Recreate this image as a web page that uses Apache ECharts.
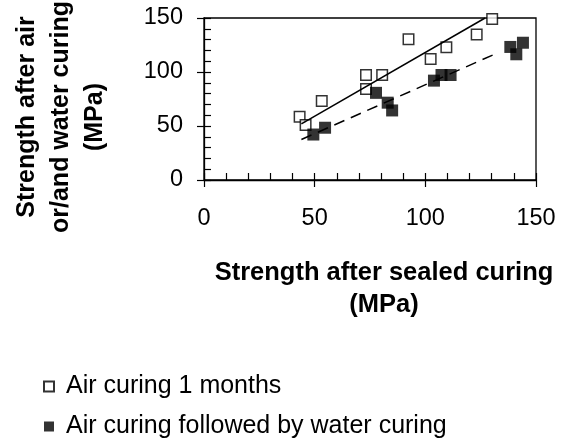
<!DOCTYPE html>
<html>
<head>
<meta charset="utf-8">
<script src="https://cdn.jsdelivr.net/npm/echarts@6/dist/echarts.min.js"></script>
<style>
  html, body { margin: 0; padding: 0; background: #fff; }
  #chart { width: 568px; height: 443px; }
</style>
</head>
<body>
<div id="chart"></div>
<script>
// Compressive strength: sealed curing (x) vs. air / air+water curing (y), MPa
const seriesNames = ['Air curing 1 months', 'Air curing followed by water curing'];

const airSealed = [43.2, 45.9, 53.2, 73.2, 73.2, 80.5, 92.4, 102.4, 109.5, 123.2, 130.2];
const airCured  = [58.6, 50.9, 73.2, 97.2, 84.3, 97.2, 130.3, 112.0, 122.9, 134.7, 149.1];

const waterSealed = [49.4, 54.7, 77.7, 83.0, 85.0, 103.9, 107.3, 111.4, 138.4, 141.1, 144.1];
const waterCured  = [42.1, 48.4, 80.7, 71.6, 64.4, 92.0, 97.2, 97.2, 123.2, 116.4, 127.1];

// Trend line end points [x, y]
const airTrend   = [[44, 52], [127, 150]];
const waterTrend = [[44, 37.5], [133, 118]];

const axisTicks = [0, 50, 100, 150];

const FONT = "'Liberation Sans', Arial, Helvetica, sans-serif";
const zip = (xs, ys) => xs.map((x, i) => [x, ys[i]]);

const chart = echarts.init(document.getElementById('chart'), null, { renderer: 'canvas' });

const axisMin = axisTicks[0];
const axisMax = axisTicks[axisTicks.length - 1];
const axisStep = axisTicks[1] - axisTicks[0];

function mainAxis(extra) {
  return Object.assign({
    type: 'value',
    min: axisMin, max: axisMax, interval: axisStep,
    axisLine: { show: true, onZero: false, lineStyle: { color: '#000', width: 1.3 } },
    axisTick: { show: true, inside: true, length: 7, lineStyle: { color: '#000', width: 1.2 } },
    minorTick: { show: true, splitNumber: 5, length: 7, lineStyle: { color: '#000', width: 1.2 } },
    splitLine: { show: false },
    minorSplitLine: { show: false },
    axisLabel: { color: '#000', fontSize: 23.5, fontFamily: FONT }
  }, extra);
}

// Outer halves of the major ticks
function outerTicks(extra) {
  return Object.assign({
    type: 'value',
    min: axisMin, max: axisMax, interval: axisStep,
    axisLine: { show: false },
    axisTick: { show: true, inside: false, length: 7, lineStyle: { color: '#000', width: 1.2 } },
    axisLabel: { show: false },
    splitLine: { show: false }
  }, extra);
}

chart.setOption({
  animation: false,
  backgroundColor: '#fff',
  grid: {
    left: 204, right: 32, top: 18, bottom: 263,
    show: true, borderColor: '#000', borderWidth: 1.3, backgroundColor: 'transparent'
  },
  xAxis: [
    mainAxis({ position: 'bottom', axisLabel: { color: '#000', fontSize: 23.5, fontFamily: FONT, margin: 27 } }),
    outerTicks({ position: 'bottom' })
  ],
  yAxis: [
    mainAxis({ position: 'left', axisLabel: { color: '#000', fontSize: 23.5, fontFamily: FONT, margin: 21 } }),
    outerTicks({ position: 'left' })
  ],
  legend: {
    orient: 'vertical',
    left: 43, top: 374,
    width: 520, height: 69,
    padding: 0,
    itemWidth: 10, itemHeight: 10, itemGap: 15,
    data: seriesNames,
    textStyle: { color: '#000', fontSize: 25, fontFamily: FONT, lineHeight: 25, padding: [0, 0, 0, 7] }
  },
  graphic: [
    {
      type: 'text',
      x: 61, y: 117,
      rotation: Math.PI / 2,
      style: {
        text: 'Strength after air\nor/and water curing\n(MPa)',
        fill: '#000',
        font: "bold 25px " + FONT,
        lineHeight: 34,
        align: 'center',
        verticalAlign: 'middle'
      }
    },
    {
      type: 'text',
      x: 384, y: 289,
      style: {
        text: 'Strength after sealed curing\n(MPa)',
        fill: '#000',
        font: "bold 25.5px " + FONT,
        lineHeight: 32,
        align: 'center',
        verticalAlign: 'middle'
      }
    }
  ],
  series: [
    {
      name: seriesNames[0],
      type: 'scatter',
      symbol: 'rect',
      symbolSize: 10.5,
      itemStyle: { color: '#fff', borderColor: '#000', borderWidth: 1.5 },
      data: zip(airSealed, airCured),
      z: 3
    },
    {
      name: seriesNames[1],
      type: 'scatter',
      symbol: 'rect',
      symbolSize: 12,
      itemStyle: { color: '#000' },
      data: zip(waterSealed, waterCured),
      z: 3
    },
    {
      name: 'air trend',
      type: 'line',
      data: airTrend,
      showSymbol: false,
      silent: true,
      lineStyle: { color: '#000', width: 1.5, type: 'solid' },
      z: 4
    },
    {
      name: 'water trend',
      type: 'line',
      data: waterTrend,
      showSymbol: false,
      silent: true,
      lineStyle: { color: '#000', width: 1.5, type: [11, 7] },
      z: 4
    }
  ]
});
</script>
</body>
</html>
